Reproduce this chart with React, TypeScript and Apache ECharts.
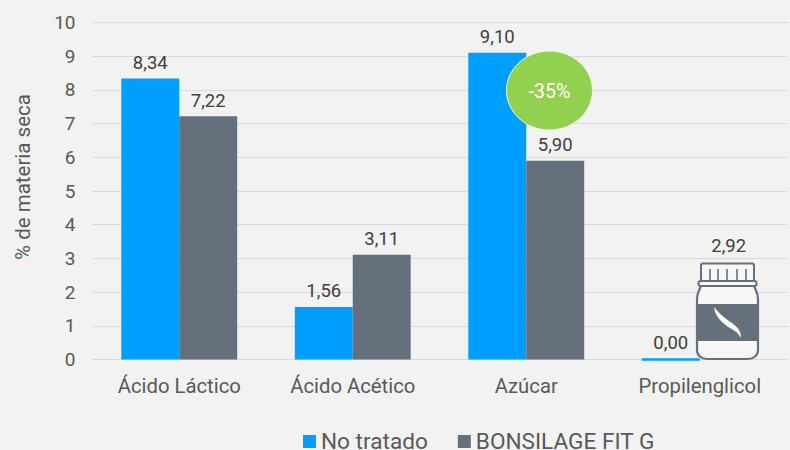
import React, { useEffect, useRef } from "react";
import * as echarts from "echarts";

const categories = ["Ácido Láctico", "Ácido Acético", "Azúcar", "Propilenglicol"];
const noTratado = [8.34, 1.56, 9.1, 0];
const bonsilage = [7.22, 3.11, 5.9, 2.92];
const yTicksMax = 10;
const fmt = (p: any) => Number(p.value?.value ?? p.value).toFixed(2).replace(".", ",");

const jarBody = "M4 0 C2 5 0 7 0 13 L0 64 C0 70 5 73 10 73 L51 73 C56 73 61 70 61 64 L61 13 C61 7 59 5 57 0";
const leaf = "M0 0 C4 5 9 10 15 14 C22 19 27 22 27 31 C24 25 19 23 13 19 C6 14 1 8 0 0 Z";
echarts.graphic.registerShape("jarBody", echarts.graphic.extendPath(jarBody, {}) as any);
echarts.graphic.registerShape("jarLeaf", echarts.graphic.extendPath(leaf, {}) as any);

export default function App() {
  const ref = useRef<HTMLDivElement>(null);
  useEffect(() => {
    const chart = echarts.init(ref.current!, undefined, { renderer: "svg" });
    const font = "Roboto";
    const jarColor = "#66707c";
    const bg = "#f2f2f2";
    const jarFill = "#f6f6f6";
    chart.setOption({
      animation: false,
      backgroundColor: bg,
      textStyle: { fontFamily: font },
      grid: { left: 92.5, right: 3.5, top: 22.5, bottom: 90.5, outerBoundsMode: "none" },
      legend: {
        top: 425, left: 298, itemWidth: 13, itemHeight: 13, itemGap: 30,
        icon: "rect",
        textStyle: { fontFamily: font, fontSize: 22.6, lineHeight: 17, color: "#595959" },
        data: ["No tratado", "BONSILAGE FIT G"],
      },
      xAxis: {
        type: "category", data: categories,
        axisTick: { show: false },
        axisLine: { lineStyle: { color: "#d9d9d9", width: 1 } },
        axisLabel: { fontSize: 20.3, color: "#595959", margin: 16 },
      },
      yAxis: {
        type: "value", min: 0, max: yTicksMax, interval: 1,
        name: "% de materia seca", nameLocation: "middle", nameRotate: 90, nameGap: 59,
        nameTextStyle: { fontSize: 20.5, color: "#595959", fontFamily: font, padding: [0, 0, 0, 28] },
        axisLine: { show: false }, axisTick: { show: false },
        axisLabel: { fontSize: 19, color: "#595959", margin: 17 },
        splitLine: { lineStyle: { color: "#d9d9d9", width: 1 } },
      },
      series: [
        {
          name: "No tratado", type: "bar",
          data: noTratado.map((v) => v === 0 ? { value: v, itemStyle: { borderColor: "#009fff", borderWidth: 2.5 } } : v),
          barGap: 0, barCategoryGap: "33.2%",
          itemStyle: { color: "#009fff" },
          label: { show: true, position: "top", distance: 6, fontSize: 18.5, color: "#404040", formatter: fmt },
        },
        {
          name: "BONSILAGE FIT G", type: "bar",
          data: bonsilage.map((v, i) => i === 3 ? { value: v, itemStyle: { color: "rgba(0,0,0,0)" } } : v),
          itemStyle: { color: jarColor },
          label: { show: true, position: "top", distance: 6, fontSize: 18.5, color: "#404040", formatter: fmt },
        },
      ],
      graphic: [
        { type: "ellipse", z: 10, shape: { cx: 549.5, cy: 90.5, rx: 43, ry: 39.5 }, style: { fill: "#92d050", stroke: "#f2f7ea", lineWidth: 1 } },
        { type: "text", z: 11, x: 549.5, y: 91, style: { text: "-35%", fill: "#ffffff", font: `19.5px ${font}`, align: "center", verticalAlign: "middle" } },
        { type: "jarBody", z: 10, x: 697, y: 286, style: { fill: jarFill, stroke: jarColor, lineWidth: 2.2 } },
        { type: "rect", z: 11, shape: { x: 697, y: 304, width: 61, height: 37 }, style: { fill: jarColor } },
        { type: "rect", z: 11, shape: { x: 701, y: 263.5, width: 53, height: 18, r: [2, 2, 0, 0] }, style: { fill: jarFill, stroke: jarColor, lineWidth: 2 } },
        ...[710, 718, 727, 737, 746].map((x) => ({ type: "line", z: 12, shape: { x1: x, y1: 269, x2: x, y2: 281 }, style: { stroke: jarColor, lineWidth: 1.6 } })),
        { type: "rect", z: 12, shape: { x: 698.5, y: 281, width: 58, height: 5, r: 2 }, style: { fill: jarFill, stroke: jarColor, lineWidth: 2 } },
        { type: "jarLeaf", z: 12, x: 714, y: 307, style: { fill: "#ffffff" } },
      ],
    });
    return () => chart.dispose();
  }, []);
  return <div ref={ref} style={{ position: "fixed", left: 0, top: 0, width: 790, height: 450 }} />;
}
